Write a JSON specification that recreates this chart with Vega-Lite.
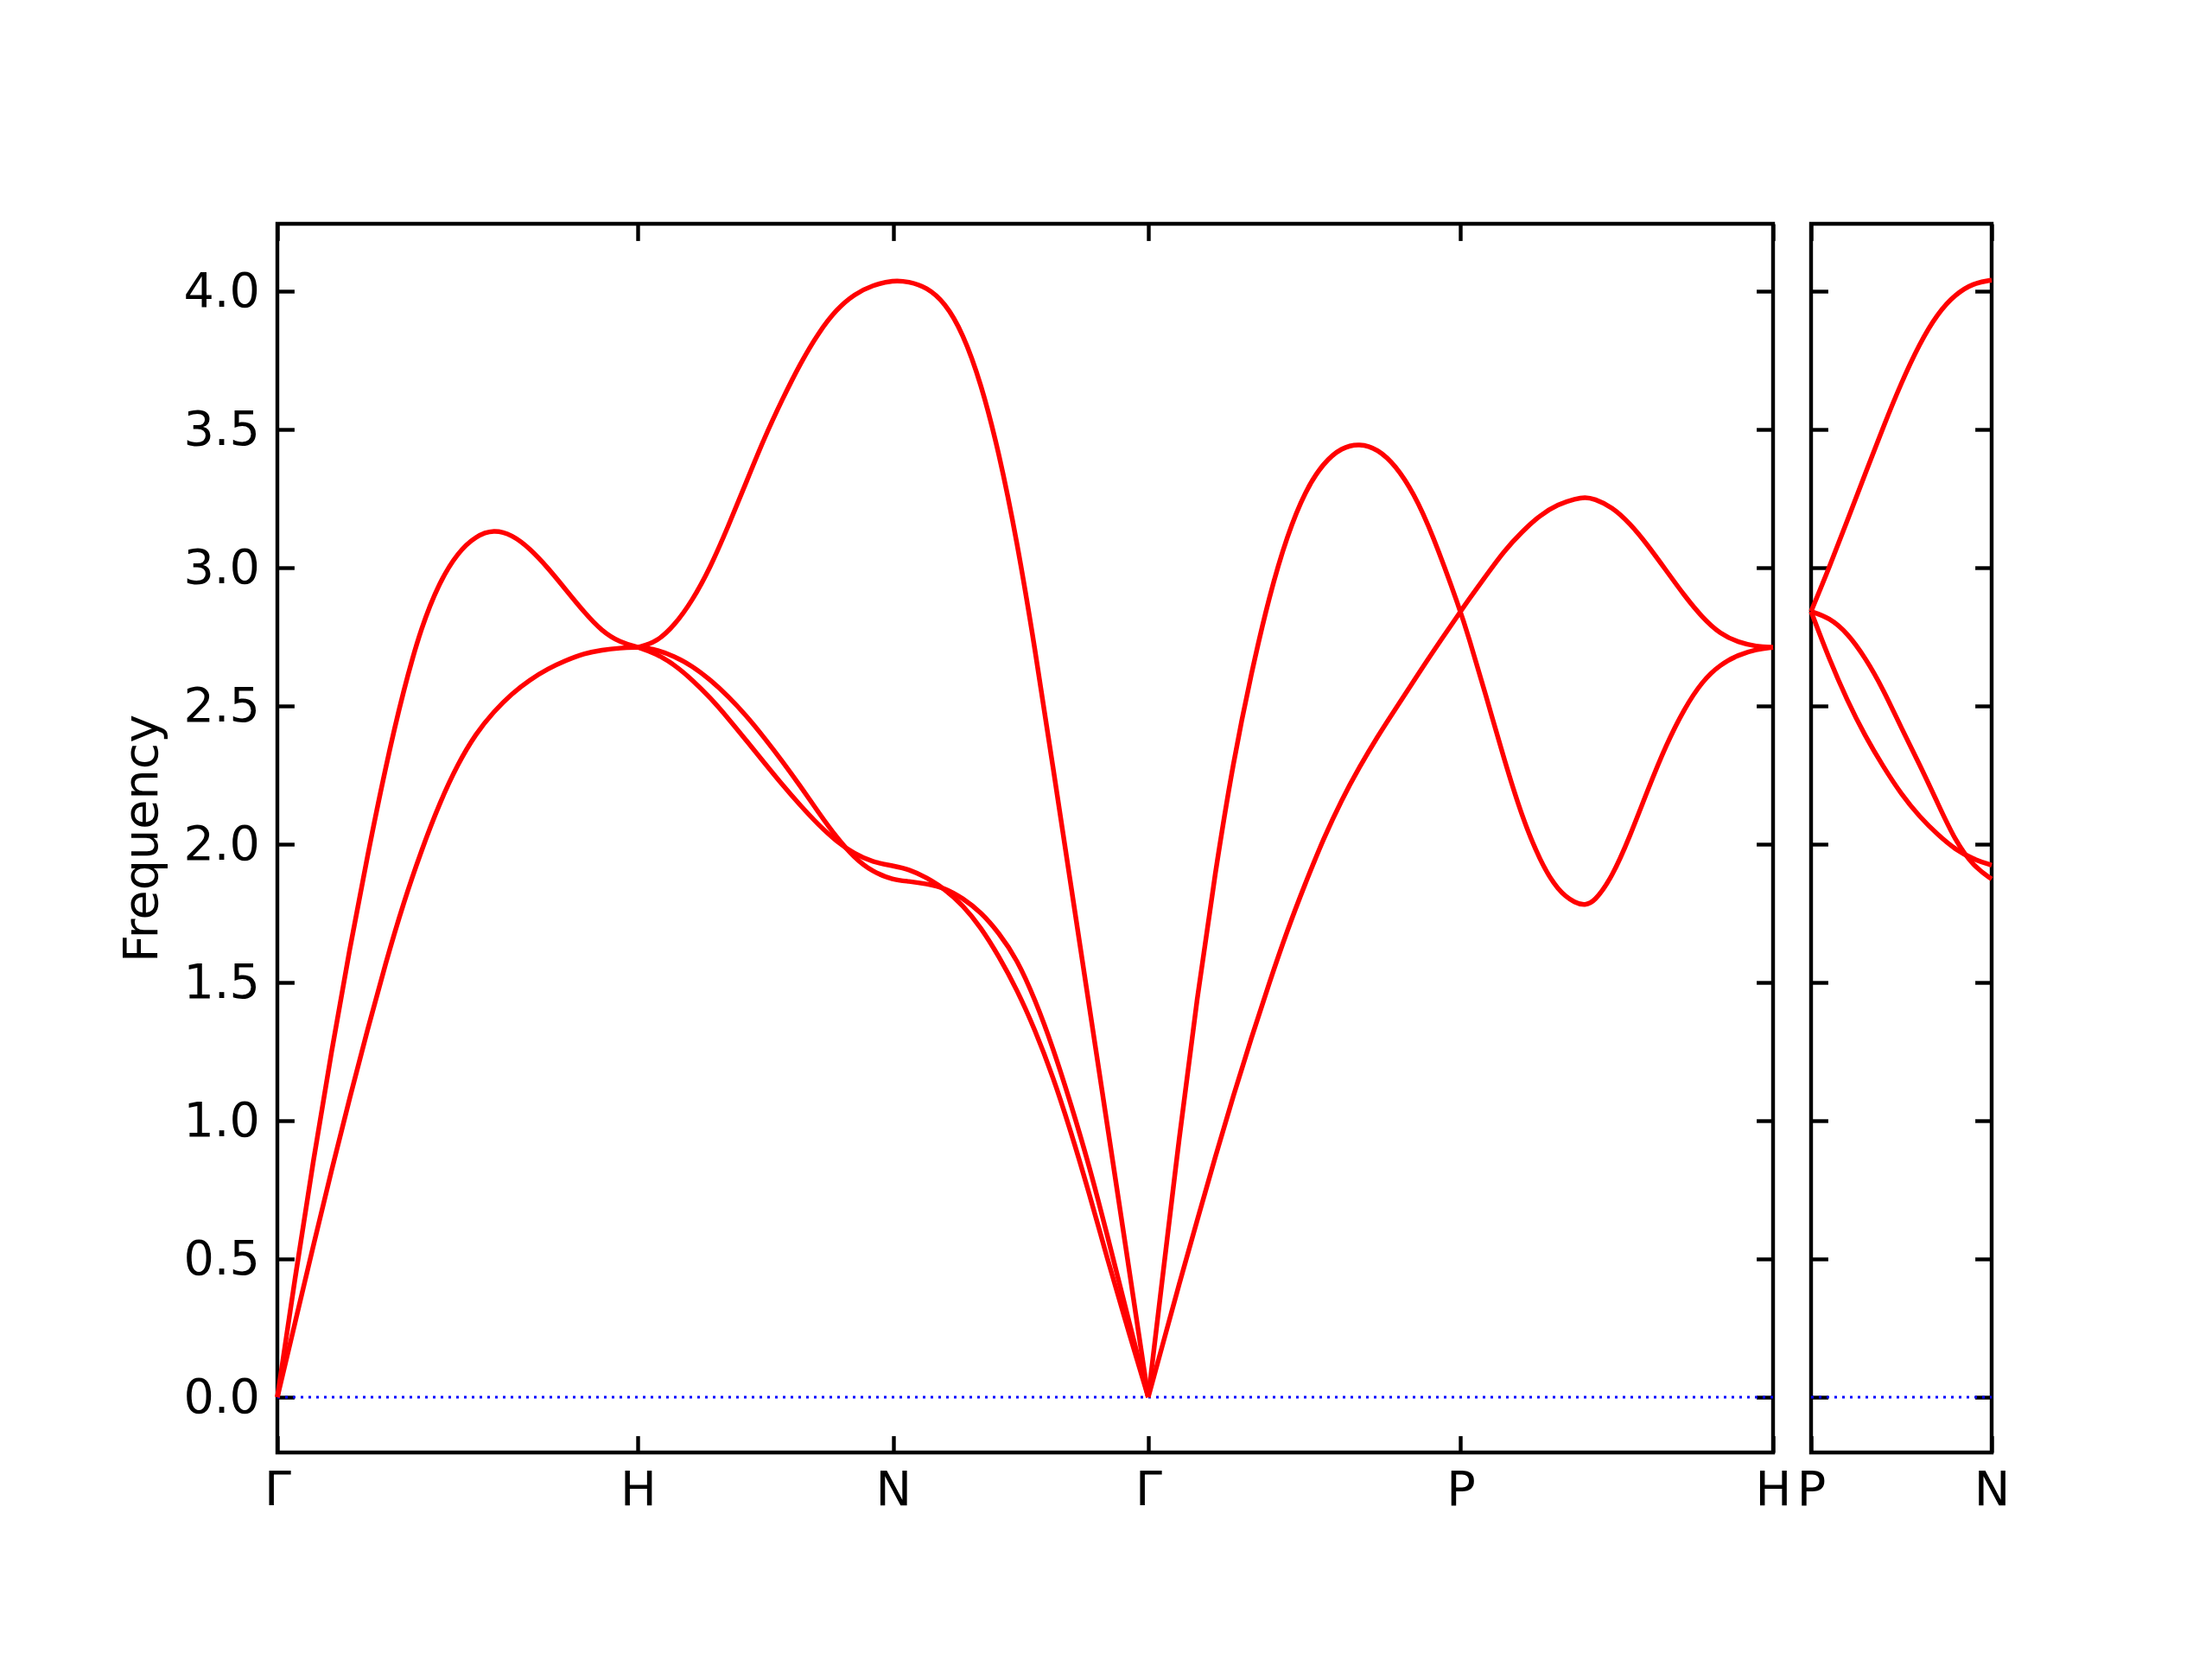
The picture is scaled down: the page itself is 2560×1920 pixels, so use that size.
{
  "$schema": "https://vega.github.io/schema/vega-lite/v6.json",
  "padding": {"left": 135, "top": 254, "right": 20, "bottom": 20},
  "bounds": "flush",
  "spacing": 44,
  "background": "white",
  "config": {
    "view": {"stroke": "black", "strokeWidth": 4.4},
    "font": "DejaVu Sans",
    "axis": {
      "domain": false, "grid": false,
      "tickColor": "black", "tickWidth": 4.4, "tickSize": -19.4,
      "labelFont": "DejaVu Sans", "labelFontSize": 55.6, "labelColor": "black",
      "titleFont": "DejaVu Sans", "titleFontSize": 55.6, "titleColor": "black", "titleFontWeight": "normal",
      "labelFlush": false, "labelOverlap": false, "labelBound": false
    },
    "axisX": {"labelPadding": 36},
    "axisY": {"labelPadding": 40}
  },
  "datasets": {
    "zeroMain": [{"x": 0, "y": 0}, {"x": 4.1463, "y": 0}],
    "zeroRight": [{"x": 0, "y": 0}, {"x": 0.5, "y": 0}],
    "main": [
      {"s": "s1", "x": 0, "y": 0}, {"s": "s1", "x": 0.05, "y": 0.44}, {"s": "s1", "x": 0.1, "y": 0.86}, {"s": "s1", "x": 0.15, "y": 1.25}, {"s": "s1", "x": 0.2, "y": 1.62}, {"s": "s1", "x": 0.25, "y": 1.96}, {"s": "s1", "x": 0.3, "y": 2.28}, {"s": "s1", "x": 0.35, "y": 2.56}, {"s": "s1", "x": 0.4, "y": 2.79}, {"s": "s1", "x": 0.45, "y": 2.95}, {"s": "s1", "x": 0.5, "y": 3.055}, {"s": "s1", "x": 0.55, "y": 3.115}, {"s": "s1", "x": 0.6, "y": 3.138}, {"s": "s1", "x": 0.65, "y": 3.12}, {"s": "s1", "x": 0.7, "y": 3.07}, {"s": "s1", "x": 0.75, "y": 3.0}, {"s": "s1", "x": 0.8, "y": 2.92}, {"s": "s1", "x": 0.85, "y": 2.84}, {"s": "s1", "x": 0.9, "y": 2.77}, {"s": "s1", "x": 0.95, "y": 2.73}, {"s": "s1", "x": 1.0, "y": 2.712},
      {"s": "s2", "x": 0, "y": 0}, {"s": "s2", "x": 0.05, "y": 0.275}, {"s": "s2", "x": 0.1, "y": 0.55}, {"s": "s2", "x": 0.15, "y": 0.82}, {"s": "s2", "x": 0.2, "y": 1.08}, {"s": "s2", "x": 0.25, "y": 1.33}, {"s": "s2", "x": 0.3, "y": 1.57}, {"s": "s2", "x": 0.35, "y": 1.79}, {"s": "s2", "x": 0.4, "y": 1.98}, {"s": "s2", "x": 0.45, "y": 2.15}, {"s": "s2", "x": 0.5, "y": 2.29}, {"s": "s2", "x": 0.55, "y": 2.40}, {"s": "s2", "x": 0.6, "y": 2.48}, {"s": "s2", "x": 0.65, "y": 2.545}, {"s": "s2", "x": 0.7, "y": 2.595}, {"s": "s2", "x": 0.75, "y": 2.635}, {"s": "s2", "x": 0.8, "y": 2.665}, {"s": "s2", "x": 0.85, "y": 2.69}, {"s": "s2", "x": 0.9, "y": 2.703}, {"s": "s2", "x": 0.95, "y": 2.71}, {"s": "s2", "x": 1.0, "y": 2.712},
      {"s": "s3", "x": 1.0, "y": 2.712}, {"s": "s3", "x": 1.05, "y": 2.73}, {"s": "s3", "x": 1.1, "y": 2.79}, {"s": "s3", "x": 1.15, "y": 2.88}, {"s": "s3", "x": 1.2, "y": 3.00}, {"s": "s3", "x": 1.25, "y": 3.15}, {"s": "s3", "x": 1.3, "y": 3.31}, {"s": "s3", "x": 1.35, "y": 3.47}, {"s": "s3", "x": 1.4, "y": 3.61}, {"s": "s3", "x": 1.45, "y": 3.74}, {"s": "s3", "x": 1.5, "y": 3.85}, {"s": "s3", "x": 1.55, "y": 3.935}, {"s": "s3", "x": 1.6, "y": 3.99}, {"s": "s3", "x": 1.65, "y": 4.022}, {"s": "s3", "x": 1.7071, "y": 4.04}, {"s": "s3", "x": 1.75, "y": 4.035}, {"s": "s3", "x": 1.8, "y": 4.015}, {"s": "s3", "x": 1.85, "y": 3.96}, {"s": "s3", "x": 1.9, "y": 3.85}, {"s": "s3", "x": 1.95, "y": 3.67}, {"s": "s3", "x": 2.0, "y": 3.42}, {"s": "s3", "x": 2.05, "y": 3.10}, {"s": "s3", "x": 2.1, "y": 2.71}, {"s": "s3", "x": 2.15, "y": 2.28}, {"s": "s3", "x": 2.2, "y": 1.85}, {"s": "s3", "x": 2.25, "y": 1.42}, {"s": "s3", "x": 2.3, "y": 0.99}, {"s": "s3", "x": 2.35, "y": 0.56}, {"s": "s3", "x": 2.4142, "y": 0},
      {"s": "s4", "x": 1.0, "y": 2.712}, {"s": "s4", "x": 1.05, "y": 2.705}, {"s": "s4", "x": 1.1, "y": 2.68}, {"s": "s4", "x": 1.15, "y": 2.645}, {"s": "s4", "x": 1.2, "y": 2.595}, {"s": "s4", "x": 1.25, "y": 2.535}, {"s": "s4", "x": 1.3, "y": 2.465}, {"s": "s4", "x": 1.35, "y": 2.385}, {"s": "s4", "x": 1.4, "y": 2.30}, {"s": "s4", "x": 1.45, "y": 2.21}, {"s": "s4", "x": 1.5, "y": 2.115}, {"s": "s4", "x": 1.55, "y": 2.025}, {"s": "s4", "x": 1.6, "y": 1.95}, {"s": "s4", "x": 1.65, "y": 1.90}, {"s": "s4", "x": 1.7071, "y": 1.871}, {"s": "s4", "x": 1.75, "y": 1.866}, {"s": "s4", "x": 1.8, "y": 1.857}, {"s": "s4", "x": 1.85, "y": 1.842}, {"s": "s4", "x": 1.9, "y": 1.805}, {"s": "s4", "x": 1.95, "y": 1.755}, {"s": "s4", "x": 2.0, "y": 1.68}, {"s": "s4", "x": 2.05, "y": 1.585}, {"s": "s4", "x": 2.1, "y": 1.44}, {"s": "s4", "x": 2.15, "y": 1.265}, {"s": "s4", "x": 2.2, "y": 1.06}, {"s": "s4", "x": 2.25, "y": 0.84}, {"s": "s4", "x": 2.3, "y": 0.59}, {"s": "s4", "x": 2.35, "y": 0.33}, {"s": "s4", "x": 2.4142, "y": 0},
      {"s": "s5", "x": 1.0, "y": 2.712}, {"s": "s5", "x": 1.05, "y": 2.69}, {"s": "s5", "x": 1.1, "y": 2.65}, {"s": "s5", "x": 1.15, "y": 2.595}, {"s": "s5", "x": 1.2, "y": 2.53}, {"s": "s5", "x": 1.25, "y": 2.455}, {"s": "s5", "x": 1.3, "y": 2.375}, {"s": "s5", "x": 1.35, "y": 2.295}, {"s": "s5", "x": 1.4, "y": 2.215}, {"s": "s5", "x": 1.45, "y": 2.14}, {"s": "s5", "x": 1.5, "y": 2.07}, {"s": "s5", "x": 1.55, "y": 2.01}, {"s": "s5", "x": 1.6, "y": 1.965}, {"s": "s5", "x": 1.65, "y": 1.935}, {"s": "s5", "x": 1.7071, "y": 1.922}, {"s": "s5", "x": 1.75, "y": 1.91}, {"s": "s5", "x": 1.8, "y": 1.88}, {"s": "s5", "x": 1.85, "y": 1.838}, {"s": "s5", "x": 1.9, "y": 1.78}, {"s": "s5", "x": 1.95, "y": 1.70}, {"s": "s5", "x": 2.0, "y": 1.595}, {"s": "s5", "x": 2.05, "y": 1.475}, {"s": "s5", "x": 2.1, "y": 1.33}, {"s": "s5", "x": 2.15, "y": 1.16}, {"s": "s5", "x": 2.2, "y": 0.96}, {"s": "s5", "x": 2.25, "y": 0.74}, {"s": "s5", "x": 2.3, "y": 0.505}, {"s": "s5", "x": 2.35, "y": 0.28}, {"s": "s5", "x": 2.4142, "y": 0},
      {"s": "s6", "x": 2.4142, "y": 0}, {"s": "s6", "x": 2.45, "y": 0.39}, {"s": "s6", "x": 2.5, "y": 0.94}, {"s": "s6", "x": 2.55, "y": 1.45}, {"s": "s6", "x": 2.6, "y": 1.90}, {"s": "s6", "x": 2.65, "y": 2.30}, {"s": "s6", "x": 2.7, "y": 2.62}, {"s": "s6", "x": 2.75, "y": 2.90}, {"s": "s6", "x": 2.8, "y": 3.12}, {"s": "s6", "x": 2.85, "y": 3.28}, {"s": "s6", "x": 2.9, "y": 3.38}, {"s": "s6", "x": 2.95, "y": 3.435}, {"s": "s6", "x": 3.0, "y": 3.45}, {"s": "s6", "x": 3.05, "y": 3.43}, {"s": "s6", "x": 3.1, "y": 3.37}, {"s": "s6", "x": 3.15, "y": 3.27}, {"s": "s6", "x": 3.2, "y": 3.13}, {"s": "s6", "x": 3.2802, "y": 2.842}, {"s": "s6", "x": 3.3, "y": 2.76}, {"s": "s6", "x": 3.35, "y": 2.54}, {"s": "s6", "x": 3.4, "y": 2.31}, {"s": "s6", "x": 3.45, "y": 2.10}, {"s": "s6", "x": 3.5, "y": 1.94}, {"s": "s6", "x": 3.55, "y": 1.83}, {"s": "s6", "x": 3.6, "y": 1.785}, {"s": "s6", "x": 3.625, "y": 1.78}, {"s": "s6", "x": 3.65, "y": 1.79}, {"s": "s6", "x": 3.7, "y": 1.88}, {"s": "s6", "x": 3.75, "y": 2.03}, {"s": "s6", "x": 3.8, "y": 2.20}, {"s": "s6", "x": 3.85, "y": 2.36}, {"s": "s6", "x": 3.9, "y": 2.49}, {"s": "s6", "x": 3.95, "y": 2.59}, {"s": "s6", "x": 4.0, "y": 2.65}, {"s": "s6", "x": 4.05, "y": 2.685}, {"s": "s6", "x": 4.1, "y": 2.705}, {"s": "s6", "x": 4.1463, "y": 2.712},
      {"s": "s7", "x": 2.4142, "y": 0}, {"s": "s7", "x": 2.45, "y": 0.17}, {"s": "s7", "x": 2.5, "y": 0.41}, {"s": "s7", "x": 2.55, "y": 0.64}, {"s": "s7", "x": 2.6, "y": 0.87}, {"s": "s7", "x": 2.65, "y": 1.09}, {"s": "s7", "x": 2.7, "y": 1.30}, {"s": "s7", "x": 2.75, "y": 1.50}, {"s": "s7", "x": 2.8, "y": 1.69}, {"s": "s7", "x": 2.85, "y": 1.86}, {"s": "s7", "x": 2.9, "y": 2.02}, {"s": "s7", "x": 2.95, "y": 2.16}, {"s": "s7", "x": 3.0, "y": 2.28}, {"s": "s7", "x": 3.05, "y": 2.39}, {"s": "s7", "x": 3.1, "y": 2.49}, {"s": "s7", "x": 3.15, "y": 2.59}, {"s": "s7", "x": 3.2, "y": 2.69}, {"s": "s7", "x": 3.2802, "y": 2.842}, {"s": "s7", "x": 3.3, "y": 2.88}, {"s": "s7", "x": 3.35, "y": 2.97}, {"s": "s7", "x": 3.4, "y": 3.06}, {"s": "s7", "x": 3.45, "y": 3.13}, {"s": "s7", "x": 3.5, "y": 3.19}, {"s": "s7", "x": 3.55, "y": 3.23}, {"s": "s7", "x": 3.6, "y": 3.25}, {"s": "s7", "x": 3.625, "y": 3.255}, {"s": "s7", "x": 3.65, "y": 3.25}, {"s": "s7", "x": 3.7, "y": 3.22}, {"s": "s7", "x": 3.75, "y": 3.16}, {"s": "s7", "x": 3.8, "y": 3.08}, {"s": "s7", "x": 3.85, "y": 2.99}, {"s": "s7", "x": 3.9, "y": 2.90}, {"s": "s7", "x": 3.95, "y": 2.82}, {"s": "s7", "x": 4.0, "y": 2.76}, {"s": "s7", "x": 4.05, "y": 2.73}, {"s": "s7", "x": 4.1, "y": 2.715}, {"s": "s7", "x": 4.1463, "y": 2.712}
    ],
    "right": [
      {"s": "r1", "x": 0, "y": 2.842}, {"s": "r1", "x": 0.05, "y": 3.0}, {"s": "r1", "x": 0.1, "y": 3.17}, {"s": "r1", "x": 0.15, "y": 3.34}, {"s": "r1", "x": 0.2, "y": 3.51}, {"s": "r1", "x": 0.25, "y": 3.67}, {"s": "r1", "x": 0.3, "y": 3.81}, {"s": "r1", "x": 0.35, "y": 3.92}, {"s": "r1", "x": 0.4, "y": 3.99}, {"s": "r1", "x": 0.45, "y": 4.03}, {"s": "r1", "x": 0.5, "y": 4.04},
      {"s": "r2", "x": 0, "y": 2.842}, {"s": "r2", "x": 0.05, "y": 2.82}, {"s": "r2", "x": 0.1, "y": 2.765}, {"s": "r2", "x": 0.15, "y": 2.675}, {"s": "r2", "x": 0.2, "y": 2.56}, {"s": "r2", "x": 0.25, "y": 2.42}, {"s": "r2", "x": 0.3, "y": 2.29}, {"s": "r2", "x": 0.35, "y": 2.15}, {"s": "r2", "x": 0.4, "y": 2.01}, {"s": "r2", "x": 0.45, "y": 1.92}, {"s": "r2", "x": 0.5, "y": 1.874},
      {"s": "r3", "x": 0, "y": 2.842}, {"s": "r3", "x": 0.05, "y": 2.67}, {"s": "r3", "x": 0.1, "y": 2.52}, {"s": "r3", "x": 0.15, "y": 2.39}, {"s": "r3", "x": 0.2, "y": 2.28}, {"s": "r3", "x": 0.25, "y": 2.18}, {"s": "r3", "x": 0.3, "y": 2.10}, {"s": "r3", "x": 0.35, "y": 2.035}, {"s": "r3", "x": 0.4, "y": 1.98}, {"s": "r3", "x": 0.45, "y": 1.945}, {"s": "r3", "x": 0.5, "y": 1.924}
    ]
  },
  "hconcat": [
    {
      "width": 1731,
      "height": 1422,
      "layer": [
        {
          "data": {"name": "zeroMain"},
          "mark": {"type": "line", "color": "#0000ff", "strokeWidth": 2.8, "strokeDash": [3, 6]},
          "encoding": {
            "x": {"field": "x", "type": "quantitative", "scale": {"domain": [0, 4.1463], "nice": false, "zero": false},
                  "axis": {"orient": "top", "labels": false, "title": null, "values": [0, 1, 1.7071, 2.4142, 3.2802, 4.1463]}},
            "y": {"field": "y", "type": "quantitative", "scale": {"domain": [-0.2, 4.244], "nice": false, "zero": false},
                  "axis": {"orient": "right", "labels": false, "title": null, "values": [0, 0.5, 1, 1.5, 2, 2.5, 3, 3.5, 4]}}
          }
        },
        {
          "data": {"name": "main"},
          "mark": {"type": "line", "color": "#ff0000", "strokeWidth": 5.5, "interpolate": "basis"},
          "encoding": {
            "x": {"field": "x", "type": "quantitative", "scale": {"domain": [0, 4.1463], "nice": false, "zero": false},
                  "axis": {"orient": "bottom", "title": null, "values": [0, 1, 1.7071, 2.4142, 3.2802, 4.1463],
                           "labelExpr": "datum.value < 0.5 ? 'Γ' : datum.value < 1.3 ? 'H' : datum.value < 2 ? 'N' : datum.value < 2.8 ? 'Γ' : datum.value < 3.7 ? 'P' : 'H'"}},
            "y": {"field": "y", "type": "quantitative", "scale": {"domain": [-0.2, 4.244], "nice": false, "zero": false},
                  "axis": {"orient": "left", "title": "Frequency", "titlePadding": 18, "format": ".1f", "values": [0, 0.5, 1, 1.5, 2, 2.5, 3, 3.5, 4]}},
            "detail": {"field": "s", "type": "nominal"}
          }
        }
      ]
    },
    {
      "width": 209,
      "height": 1422,
      "layer": [
        {
          "data": {"name": "zeroRight"},
          "mark": {"type": "line", "color": "#0000ff", "strokeWidth": 2.8, "strokeDash": [3, 6]},
          "encoding": {
            "x": {"field": "x", "type": "quantitative", "scale": {"domain": [0, 0.5], "nice": false, "zero": false},
                  "axis": {"orient": "top", "labels": false, "title": null, "values": [0, 0.5]}},
            "y": {"field": "y", "type": "quantitative", "scale": {"domain": [-0.2, 4.244], "nice": false, "zero": false},
                  "axis": {"orient": "right", "labels": false, "title": null, "values": [0, 0.5, 1, 1.5, 2, 2.5, 3, 3.5, 4]}}
          }
        },
        {
          "data": {"name": "right"},
          "mark": {"type": "line", "color": "#ff0000", "strokeWidth": 5.5, "interpolate": "basis"},
          "encoding": {
            "x": {"field": "x", "type": "quantitative", "scale": {"domain": [0, 0.5], "nice": false, "zero": false},
                  "axis": {"orient": "bottom", "title": null, "values": [0, 0.5], "labelExpr": "datum.value < 0.25 ? 'P' : 'N'"}},
            "y": {"field": "y", "type": "quantitative", "scale": {"domain": [-0.2, 4.244], "nice": false, "zero": false},
                  "axis": {"orient": "left", "labels": false, "title": null, "values": [0, 0.5, 1, 1.5, 2, 2.5, 3, 3.5, 4]}},
            "detail": {"field": "s", "type": "nominal"}
          }
        }
      ]
    }
  ]
}
